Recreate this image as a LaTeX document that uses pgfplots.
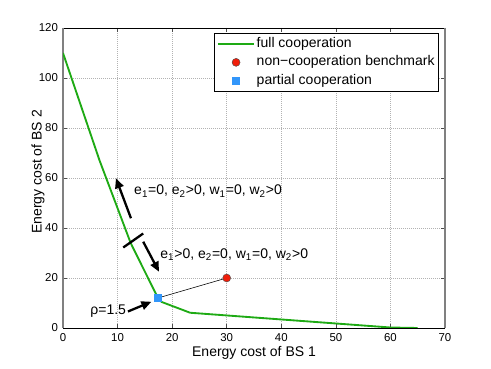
\documentclass[border=0pt]{standalone}
\usepackage{fontspec}
\setmainfont{Liberation Sans}
\usepackage{pgfplots}
\pgfplotsset{compat=1.18}
\usetikzlibrary{arrows.meta}

\definecolor{fullgreen}{RGB}{30,170,20}
\definecolor{ncred}{RGB}{240,30,10}
\definecolor{pcblue}{RGB}{50,150,250}

\begin{document}
\begin{tikzpicture}
\begin{axis}[
    name=main,
    scale only axis,
    width=267.4pt, height=210pt,
    xmin=0, xmax=70, ymin=0, ymax=120,
    xtick={0,10,...,70}, ytick={0,20,...,120},
    grid=major,
    grid style={densely dotted, gray!60, line width=0.4pt},
    tick align=inside,
    major tick length=3pt,
    tick style={black!70, line width=0.4pt},
    separate axis lines,
    x axis line style={black, line width=0.6pt},
    y axis line style={gray, line width=1.2pt},
    /pgf/number format/assume math mode=true,
    tick label style={font=\fontsize{8}{9}\selectfont},
    label style={font=\fontsize{9.8}{11}\selectfont},
    xlabel={Energy cost of BS 1},
    ylabel={Energy cost of BS 2},
    xlabel style={at={(axis description cs:0.5,-0.0833)}, anchor=center},
    ylabel style={at={(axis description cs:-0.0654,0.52)}, anchor=center},
    legend style={at={(1,1)}, anchor=north east, xshift=-4pt, yshift=-3.7pt,
        font=\fontsize{9.8}{12}\selectfont, draw=black, line width=0.6pt,
        inner xsep=2pt, inner ysep=1.2pt,
        nodes={inner xsep=1pt, inner ysep=0pt, text height=8.5pt, text depth=3.4pt},
        row sep=1pt},
    legend cell align=left,
    legend image code/.code={\draw[mark repeat=2,mark phase=2,#1] plot coordinates {(0cm,0cm) (0.45cm,0cm) (0.9cm,0cm)};},
]

\addplot[fullgreen, line width=1.3pt, no markers] coordinates {
    (0,110) (6.7,67) (12.4,34) (17.4,12) (18.1,10.4) (23.3,6.1) (60,0.2) (65,0)
};
\addlegendentry{full cooperation}

\addplot[black, line width=0.4pt, forget plot] coordinates {(17.4,12) (30,20)};

\addplot[only marks, mark=*, mark size=2.8pt,
    mark options={fill=ncred, draw=black!70, line width=0.3pt}] coordinates {(30,20)};
\addlegendentry{non−cooperation benchmark}

\addplot[only marks, mark=square*, mark size=2.3pt, color=pcblue] coordinates {(17.4,12)};
\addlegendentry{partial cooperation}

% annotations
\draw[-{Triangle[length=7pt,width=6pt]}, line width=1.6pt] (12.45,43.9) -- (9.7,59.9);
\draw[-{Triangle[length=7pt,width=6pt]}, line width=1.6pt] (14.7,34.5) -- (17.6,22.5);
\draw[line width=1.6pt] (11.04,32.2) -- (14.7,37.8);
\draw[-{Triangle[length=7pt,width=6pt]}, line width=1.6pt] (11.9,6.6) -- (16.2,10.5);
\node[anchor=base east, inner sep=0pt, font=\fontsize{9.8}{11}\selectfont] at (11.6,5.2) {ρ=1.5};
\node[anchor=base west, inner sep=0pt, font=\fontsize{9.8}{11}\selectfont] at (13.0,53.2)
    {e\textsubscript{1}=0, e\textsubscript{2}>0, w\textsubscript{1}=0, w\textsubscript{2}>0};
\node[anchor=base west, inner sep=0pt, font=\fontsize{9.8}{11}\selectfont] at (17.8,27.9)
    {e\textsubscript{1}>0, e\textsubscript{2}=0, w\textsubscript{1}=0, w\textsubscript{2}>0};
\end{axis}
\pgfresetboundingbox
\path[use as bounding box] ([shift={(-44.1pt,-28.7pt)}]main.south west)
    rectangle ([shift={(32.2pt,19.6pt)}]main.north east);
\end{tikzpicture}
\end{document}
